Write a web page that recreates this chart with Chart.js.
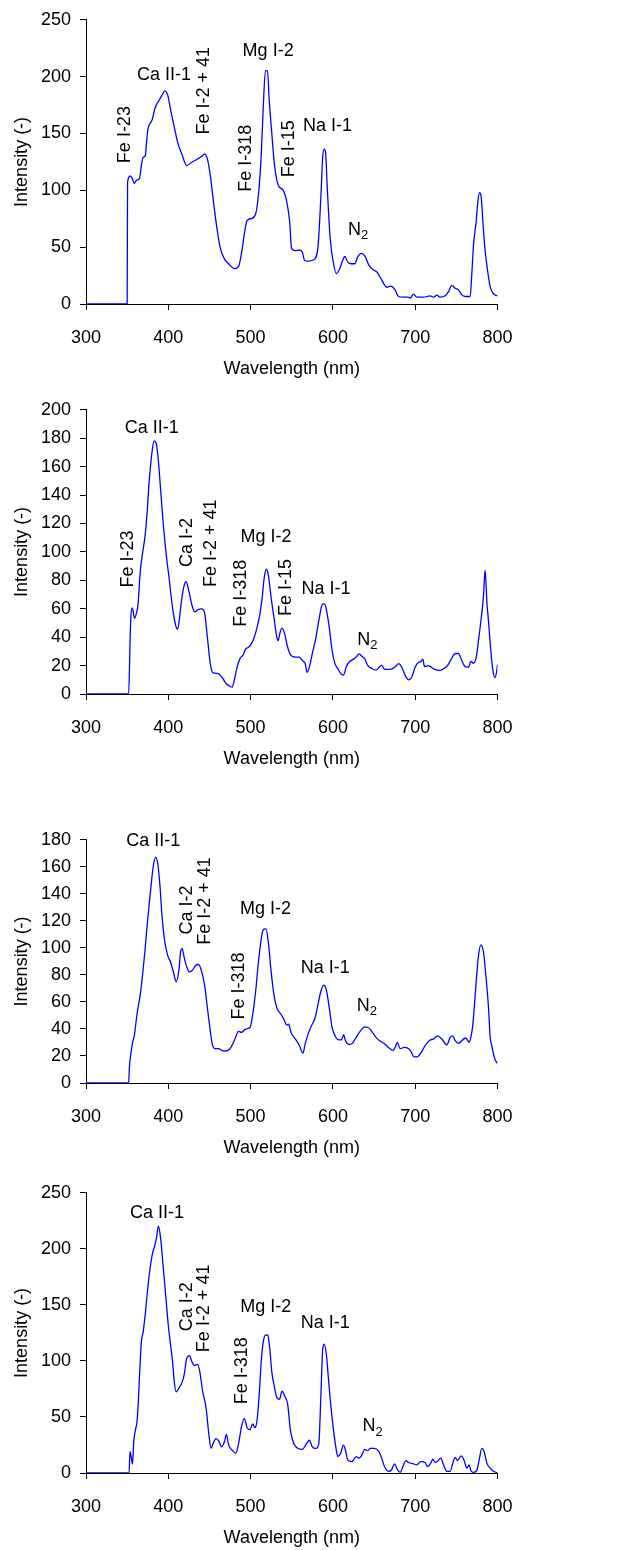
<!DOCTYPE html>
<html>
<head>
<meta charset="utf-8">
<script src="https://cdn.jsdelivr.net/npm/chart.js@4.4.0/dist/chart.umd.min.js"></script>
<style>
  html, body { margin: 0; padding: 0; background: #fff; overflow: hidden; }
  body { width: 617px; height: 1550px; position: relative; }
  canvas { position: absolute; left: 0; }
</style>
</head>
<body>
<canvas id="spec1" width="617" height="380" style="top:0px"></canvas>
<canvas id="spec2" width="617" height="380" style="top:390px"></canvas>
<canvas id="spec3" width="617" height="339" style="top:820px"></canvas>
<canvas id="spec4" width="617" height="376" style="top:1173px"></canvas>
<script>
// Spectrum 1
const wl1 = [300, 350, 350.5, 353.5, 356.3, 358.7, 361.4, 364.9, 367.3, 369.4, 372.1, 373.5, 375.2, 380.4, 383.8, 389, 392.4, 395.9, 399.3, 402.8, 406.2, 411.4, 416.5, 422.4, 428.6, 435.5, 440.6, 444.1, 447.5, 451, 454.4, 457.9, 463, 468.2, 473.3, 480.2, 485.4, 488.8, 492.3, 495.7, 500.9, 506.1, 509.5, 512.9, 515.4, 518.1, 520.5, 522.6, 525.7, 529.1, 533.6, 539.5, 543.9, 547.4, 549.8, 554.3, 559.4, 562.9, 565.6, 569.8, 576.7, 581.8, 585.3, 587.7, 589.4, 591.1, 593.2, 596.6, 600.8, 604.2, 608.3, 611.1, 614.5, 618, 623.1, 626.6, 630, 634.5, 638.6, 643.8, 649, 653.3, 659.4, 665.5, 670.4, 675.6, 679.7, 685.8, 691.8, 693.9, 697.9, 702, 710.1, 718.2, 722.2, 726.3, 730.3, 736.4, 740.5, 744.5, 748.6, 752.6, 756.7, 760.7, 766.8, 768.8, 770.9, 774.1, 776.1, 778.1, 780.2, 782.2, 785, 787.9, 791.1, 794.4, 800];
const int1 = [0, 0, 107, 112.6, 110.3, 106, 108.9, 110.3, 121.8, 129, 130.5, 142, 153.5, 162.1, 172.2, 179.4, 183.7, 187.5, 183.7, 170.8, 159.3, 142, 131.9, 121.8, 124.7, 127.6, 129.9, 131.9, 127.6, 113.2, 93, 72.9, 49.8, 39.7, 35.4, 31.1, 33.1, 44, 61.3, 73.4, 75.2, 79.2, 95.9, 130.5, 173.7, 205.3, 205.3, 179.4, 150.6, 121.8, 104.5, 100.2, 90.1, 72.9, 48.9, 46.9, 47.5, 45.5, 38.3, 37.7, 38.9, 49.8, 93, 130.5, 136.2, 133.3, 101.7, 58.5, 35.4, 26.8, 31.1, 36.9, 41.8, 36.9, 35.4, 35.4, 41.2, 44.6, 42.6, 34, 30.2, 28.2, 21, 14.7, 15.8, 12.4, 6.6, 6, 6, 5.2, 8.6, 6, 6, 7.2, 6, 7.8, 6, 7.2, 10.9, 16.4, 13.8, 12.4, 8, 6.6, 6.6, 26.7, 52.6, 72.7, 89.9, 98, 94.3, 72.7, 46.8, 29.6, 15.2, 9.5, 7.2];

// Spectrum 2
const wl2 = [300, 351.8, 353.5, 354.5, 356.3, 359, 361.4, 363.2, 365.9, 368.3, 371.8, 374.2, 376.9, 380.4, 382.8, 385.5, 387.9, 390.7, 394.1, 397.6, 401, 405.2, 408.6, 411.4, 414.1, 416.5, 418.9, 421.7, 425.1, 428.6, 432, 436.2, 440.6, 444.1, 447.5, 451, 454.4, 459.6, 464.7, 469.9, 475.1, 477.5, 480.2, 483.7, 487.1, 490.6, 494, 497.5, 500.9, 504.3, 507.8, 511.2, 514, 516.4, 519.1, 521.6, 525, 528.4, 531.9, 533.6, 535.3, 538.1, 541.5, 545, 549.1, 554.3, 558.7, 562.9, 566.3, 568.7, 571.5, 574.9, 579.4, 583.5, 587, 589.7, 592.1, 595.6, 599, 602.5, 605.9, 609.4, 612.8, 616.3, 619.7, 624.2, 628.3, 631.8, 635.2, 638.6, 642.1, 647.2, 652.4, 655.9, 659.3, 662.7, 667.9, 673.1, 676.5, 680, 683.4, 688.6, 692, 695.9, 699.9, 704, 706.8, 709.3, 711.3, 716.1, 722.2, 730.3, 736.4, 740.5, 744.5, 748.6, 752.6, 756.7, 760.7, 764.8, 767.6, 770.9, 774.1, 777.3, 780.2, 783, 784.2, 785, 787.1, 789.1, 791.9, 794.4, 796.8, 799.2, 800];
const int2 = [0, 0, 35.3, 53.7, 60.6, 53.2, 57.1, 62.9, 85.9, 97.5, 111.3, 127.4, 150.5, 171.2, 178.1, 175.8, 164.3, 143.5, 118.2, 97.5, 81.3, 60.6, 49.1, 45.6, 56, 67.5, 75.6, 79, 72.1, 62.9, 57.8, 59.4, 59.9, 57.1, 39.8, 21.4, 14.9, 14.5, 12.2, 7.6, 5.3, 4.8, 9.9, 19.1, 24.9, 27.2, 31.8, 32.9, 35.3, 39.8, 46.7, 56, 67.5, 81.3, 87.8, 83.6, 67.5, 53.7, 39.8, 37.5, 42.1, 46.3, 42.1, 32.9, 27.2, 26, 26, 23.7, 21.4, 15.2, 19.1, 28.3, 39.8, 53.7, 62.9, 63.4, 59.4, 46.7, 30.6, 21.4, 18, 14.5, 13.3, 19.1, 22.5, 24.2, 26, 28.3, 26.5, 24.9, 20.3, 18, 16.8, 18.7, 20.3, 17.3, 17.3, 18, 19.6, 21.4, 19.1, 12.2, 10, 12, 18.9, 22.3, 22.8, 24.6, 19.3, 20, 17.7, 16.6, 18.4, 21.1, 25.3, 28.5, 28.5, 23.4, 19.3, 18.9, 23, 21.6, 25.7, 39.5, 53.3, 69.4, 82, 87, 64.8, 51, 30.3, 16.6, 11.5, 16.6, 20.7];

// Spectrum 3
const wl3 = [300, 351.8, 352.8, 354.5, 356.3, 359, 361.4, 363.2, 365.9, 368.3, 371.8, 374.2, 376.9, 379.7, 382.1, 384.8, 387.3, 390, 392.4, 395.9, 399.3, 402.8, 406.2, 409.6, 413.1, 414.8, 416.9, 419.3, 422.4, 425.8, 429.3, 433.1, 436.8, 440.6, 444.1, 447.5, 451, 453.4, 456.8, 461.3, 464.7, 469.9, 475.1, 480.2, 485.4, 488.8, 494, 499.2, 502.6, 506.1, 509.5, 512.9, 515.4, 518.8, 521.6, 525, 528.4, 531.9, 537.1, 540.5, 543.9, 546.3, 549.1, 554.3, 558.7, 563.6, 566.3, 569.8, 573.9, 578.4, 581.8, 585.3, 588.7, 592.1, 595.6, 599, 602.5, 607.6, 610.4, 613.2, 615.2, 619.7, 623.1, 628.3, 633.5, 638.6, 642.8, 647.2, 652.4, 657.6, 662.7, 667.9, 673.1, 675.8, 678.2, 681.7, 686.8, 692, 695.4, 698, 702, 706.8, 712.1, 718.2, 722.2, 727.1, 732.4, 738.4, 742.5, 745.7, 748.6, 752.6, 758.7, 761.5, 765.6, 767.6, 770, 774.1, 776.9, 779.8, 783, 786.2, 789.1, 791.1, 793.1, 796, 798.4, 800];
const int3 = [0, 0, 12.1, 21.7, 29, 36.2, 48.3, 55.6, 65.2, 77.3, 99, 116, 132.9, 149.8, 161.9, 167.2, 161.9, 145, 123.3, 103.9, 94.3, 89.4, 82.2, 74.9, 84.6, 96.6, 99.5, 93, 85.8, 82.2, 83.4, 87, 87.7, 82.2, 72.5, 55.6, 38.6, 29, 25.4, 25.4, 24.2, 23.7, 25.4, 31.4, 38.2, 37.4, 39.9, 41.1, 50.7, 67.7, 89.4, 106.3, 113.5, 114, 103.9, 82.2, 65.2, 55.6, 50.7, 47.1, 43, 43.5, 37.4, 32.6, 28.5, 22.2, 29, 36.2, 42.3, 48.3, 58, 67.7, 72.5, 68.8, 55.6, 41.1, 35, 31.9, 32.1, 35.7, 31.4, 28.5, 29, 33.8, 38.6, 41.5, 41.1, 38.2, 33.8, 30.9, 29, 26.1, 24.2, 26.6, 30, 25.4, 26.4, 25.4, 22.9, 19.5, 19.3, 22.2, 27.7, 31.8, 32.5, 34.9, 32.5, 28.2, 33.7, 34.9, 31.3, 29.4, 32.5, 33.3, 30.1, 33.7, 43, 74.9, 94.2, 102.2, 96.6, 77.3, 55.5, 33.7, 27.7, 19.3, 15.7, 14.5];

// Spectrum 4
const wl4 = [300, 352.3, 353.5, 355, 356.5, 358, 360, 362, 363.5, 364.9, 367.3, 369.4, 371.8, 374.5, 377.6, 380.4, 383.1, 385.5, 387.9, 390, 391.7, 394.1, 397.6, 400, 402.8, 405.2, 407.2, 409.6, 413.1, 416.5, 419.3, 422.4, 425.8, 428.6, 431.3, 435.5, 438.2, 441.7, 445.8, 449.2, 452, 454.4, 457.9, 461.3, 464.7, 468.2, 470.6, 473.3, 477.5, 482, 485.4, 488.8, 492.3, 495.7, 499.2, 502.6, 505, 507.8, 510.5, 512.9, 515.4, 518.1, 520.9, 523.3, 525.7, 528.4, 531.9, 535.3, 538.1, 541.5, 545, 548.4, 552.5, 557.7, 562.9, 568, 571.5, 574.9, 579.4, 582.9, 585.3, 587.7, 589.4, 592.1, 594.5, 597.3, 600.8, 603.5, 605.9, 609.4, 612.8, 615.2, 618, 623.1, 628.3, 631.8, 635.2, 638.6, 642.1, 645.5, 650.7, 655.9, 659.3, 662.7, 667.9, 671.3, 674.8, 678.2, 681.7, 685.1, 688.6, 691.8, 697.9, 702, 706.8, 712.1, 714.9, 719, 721.4, 724.2, 727.1, 731.1, 734.4, 738.4, 742.5, 745.7, 748.6, 751.4, 755.8, 759.5, 762.7, 765.6, 767.6, 770.9, 774.9, 778.1, 781, 783.8, 787.1, 791.1, 795.2, 800];
const int4 = [0, 0, 19, 14, 8, 28, 38, 46, 62, 84.8, 117, 125.7, 140.4, 160.8, 181.3, 194.4, 201.8, 209.1, 220.2, 213.4, 201.8, 181.3, 152, 131.6, 114, 99.4, 81.9, 72.5, 76, 80.4, 87.7, 102.3, 104.7, 99.4, 95.9, 97, 90.6, 73.1, 58.5, 35.1, 21.9, 26.3, 30.7, 28.6, 23.4, 27.8, 34.5, 24.9, 20.5, 17.5, 26.3, 40.9, 48.8, 40.4, 38.6, 43.9, 40.4, 46.8, 70.2, 99.4, 117, 123.3, 122.8, 111.1, 90.6, 78.9, 67.2, 65.8, 73.1, 68.7, 61.4, 38, 26.3, 21.9, 21.1, 26.3, 29.2, 23.4, 21.9, 26.3, 67.2, 111.1, 114.9, 105.3, 84.8, 61.4, 38, 23.4, 14.6, 17.5, 24.9, 20.5, 11.7, 10.2, 14.6, 13.2, 16.1, 21.1, 19.9, 21.9, 21.9, 19, 13.2, 5.8, 1.4, 2.9, 8.2, 3.5, 0.6, 5.8, 11.1, 9.4, 8.2, 7.3, 10.2, 9.4, 5.8, 8.8, 12.3, 9.4, 10.2, 13.2, 7.3, 1.5, 1.5, 8.8, 14, 11.1, 15.2, 11.1, 4.4, 7.3, 2.3, 0.6, 2.3, 13.2, 21.9, 19, 8.8, 4.4, 1.5, 0];

// axes
const xMin = 300, xMax = 800, xStep = 100;
const yMax1 = 250, yStep1 = 50;
const yMax2 = 200, yStep2 = 20;
const yMax3 = 180, yStep3 = 20;
const yMax4 = 250, yStep4 = 50;

// line labels: text, wavelength, intensity at the text centre, vertical or not
const labels1 = [
    { text: 'Fe I-23', x: 348.0, y: 149, v: true },
    { text: 'Ca II-1', x: 394.8, y: 201.3, v: false },
    { text: 'Fe I-2 + 41', x: 442.9, y: 187.6, v: true },
    { text: 'Mg I-2', x: 521.3, y: 222.6, v: false },
    { text: 'Fe I-318', x: 494.9, y: 128.3, v: true },
    { text: 'Fe I-15', x: 547.2, y: 136.5, v: true },
    { text: 'Na I-1', x: 593.4, y: 156.8, v: false },
    { text: 'N2', x: 630.5, y: 65.3, v: false, sub: true }
];
const labels2 = [
    { text: 'Ca II-1', x: 379.9, y: 186.9, v: false },
    { text: 'Fe I-23', x: 351.0, y: 95, v: true },
    { text: 'Ca I-2', x: 422.4, y: 106.7, v: true },
    { text: 'Fe I-2 + 41', x: 452.2, y: 106.1, v: true },
    { text: 'Fe I-318', x: 488.8, y: 70.9, v: true },
    { text: 'Mg I-2', x: 518.8, y: 110.7, v: false },
    { text: 'Fe I-15', x: 542.9, y: 75, v: true },
    { text: 'Na I-1', x: 591.5, y: 73.8, v: false },
    { text: 'N2', x: 642, y: 38.1, v: false, sub: true }
];
const labels3 = [
    { text: 'Ca II-1', x: 381.8, y: 179.1, v: false },
    { text: 'Ca I-2', x: 422.5, y: 128, v: true },
    { text: 'Fe I-2 + 41', x: 445.0, y: 134.7, v: true },
    { text: 'Mg I-2', x: 518.1, y: 128.7, v: false },
    { text: 'Fe I-318', x: 486.5, y: 71.8, v: true },
    { text: 'Na I-1', x: 590.8, y: 85.2, v: false },
    { text: 'N2', x: 641.3, y: 57.3, v: false, sub: true }
];
const labels4 = [
    { text: 'Ca II-1', x: 386.2, y: 232, v: false },
    { text: 'Ca I-2', x: 422.7, y: 148.3, v: true },
    { text: 'Fe I-2 + 41', x: 443.9, y: 146.9, v: true },
    { text: 'Fe I-318', x: 489.0, y: 91.3, v: true },
    { text: 'Mg I-2', x: 518.5, y: 148.1, v: false },
    { text: 'Na I-1', x: 590.8, y: 133.4, v: false },
    { text: 'N2', x: 648.2, y: 41.9, v: false, sub: true }
];

const FONT = "'Liberation Sans', Arial, sans-serif";

// draws the spectral line names on top of the curve
const lineLabels = {
    id: 'lineLabels',
    afterDatasetsDraw(chart, args, opts) {
        const ctx = chart.ctx;
        const xs = chart.scales.x, ys = chart.scales.y;
        ctx.save();
        ctx.fillStyle = '#000';
        ctx.textBaseline = 'middle';
        (opts.items || []).forEach(lab => {
            const px = xs.getPixelForValue(lab.x);
            const py = ys.getPixelForValue(lab.y);
            ctx.save();
            ctx.translate(px, py);
            if (lab.v) ctx.rotate(-Math.PI / 2);
            if (lab.sub) {
                // N with a subscript 2
                ctx.font = '18px ' + FONT;
                const wN = ctx.measureText('N').width;
                ctx.font = '13px ' + FONT;
                const w2 = ctx.measureText('2').width;
                const x0 = -(wN + w2) / 2;
                ctx.textAlign = 'left';
                ctx.font = '18px ' + FONT;
                ctx.fillText('N', x0, 0);
                ctx.font = '13px ' + FONT;
                ctx.fillText('2', x0 + wN, 6);
            } else {
                ctx.font = '18px ' + FONT;
                ctx.textAlign = 'center';
                ctx.fillText(lab.text, 0, 0);
            }
            ctx.restore();
        });
        ctx.restore();
    }
};

function renderSpectrum(id, wl, intensity, yMax, yStep, labels) {
    const ctx = document.getElementById(id).getContext('2d');
    const font = { family: FONT, size: 18 };
    return new Chart(ctx, {
        type: 'line',
        data: {
            datasets: [{
                data: wl.map((w, i) => ({ x: w, y: intensity[i] })),
                borderColor: '#0000ff',
                borderWidth: 1.3,
                pointRadius: 0,
                fill: false,
                cubicInterpolationMode: 'monotone'
            }]
        },
        options: {
            responsive: false,
            animation: false,
            devicePixelRatio: 1,
            layout: { padding: { top: 15, right: 119.5, bottom: 0, left: 0 } },
            plugins: {
                legend: { display: false },
                tooltip: { enabled: false },
                lineLabels: { items: labels }
            },
            scales: {
                x: {
                    type: 'linear',
                    min: xMin, max: xMax,
                    ticks: { stepSize: xStep, color: '#000', font: font, padding: 17, maxRotation: 0, autoSkip: false },
                    grid: { drawOnChartArea: false, drawTicks: true, tickLength: 6, color: '#000' },
                    border: { display: true, color: '#000', width: 1 },
                    title: { display: true, text: 'Wavelength (nm)', color: '#000', font: font, padding: { top: 0, bottom: 0 } },
                    afterFit: s => { s.height = 76; }
                },
                y: {
                    type: 'linear',
                    min: 0, max: yMax,
                    ticks: { stepSize: yStep, color: '#000', font: font, padding: 9 },
                    grid: { drawOnChartArea: false, drawTicks: true, tickLength: 6, color: '#000' },
                    border: { display: true, color: '#000', width: 1 },
                    title: { display: true, text: 'Intensity (-)', color: '#000', font: font, padding: { top: 11, bottom: 0 } },
                    afterFit: s => { s.width = 86; }
                }
            }
        },
        plugins: [lineLabels]
    });
}

renderSpectrum('spec1', wl1, int1, yMax1, yStep1, labels1);
renderSpectrum('spec2', wl2, int2, yMax2, yStep2, labels2);
renderSpectrum('spec3', wl3, int3, yMax3, yStep3, labels3);
renderSpectrum('spec4', wl4, int4, yMax4, yStep4, labels4);
</script>
</body>
</html>
